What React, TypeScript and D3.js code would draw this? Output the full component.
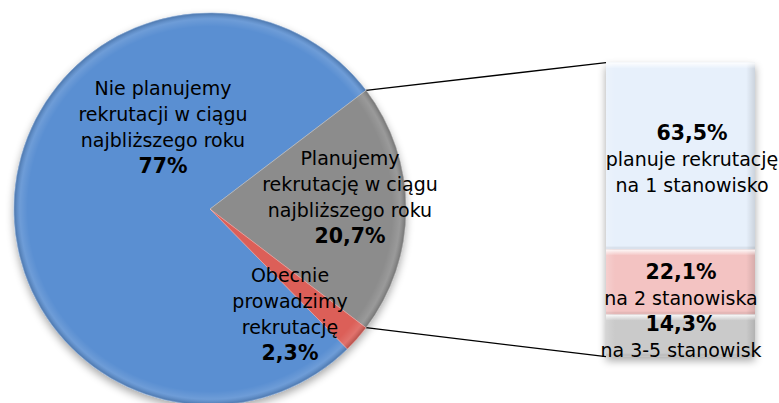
import React from "react";
import * as d3 from "d3";

// ---- data ----
const pieCategories = [
  ["Nie planujemy", "rekrutacji w ciągu", "najbliższego roku"],
  ["Planujemy", "rekrutację w ciągu", "najbliższego roku"],
  ["Obecnie", "prowadzimy", "rekrutację"],
];
const pieValues = [77, 20.7, 2.3];
const pieValueLabels = ["77%", "20,7%", "2,3%"];

const barCategories = [
  ["planuje rekrutację", "na 1 stanowisko"],
  ["na 2 stanowiska"],
  ["na 3-5 stanowisk"],
];
const barValues = [63.5, 22.1, 14.3];
const barValueLabels = ["63,5%", "22,1%", "14,3%"];

// ---- styles / layout ----
const W = 779;
const H = 403;
const pieColors = ["#5a8fd2", "#8c8c8c", "#dc5f58"];
const barColors = ["#e7f0fb", "#f3c3c2", "#cacaca"];
const FONT = "'DejaVu Sans', Verdana, sans-serif";
const FS = 19;
const FSB = 20.5;
const LH = 26;

export default function App() {
  const cx = 210;
  const cy = 209;
  const r = 196;
  const deg = Math.PI / 180;
  const total = d3.sum(pieValues);
  const grayStart = 90 * deg - (pieValues[1] / total) * Math.PI;
  const start = grayStart + ((pieValues[1] + pieValues[2]) / total) * 2 * Math.PI;

  const pie = d3
    .pie<number>()
    .sort(null)
    .value((d) => d)
    .startAngle(start)
    .endAngle(start + 2 * Math.PI);
  const arcs = pie(pieValues);
  const arc = d3.arc<d3.PieArcDatum<number>>().innerRadius(0).outerRadius(r);
  const rim = d3.arc<d3.PieArcDatum<number>>().innerRadius(r - 14).outerRadius(r);

  const barX = 606;
  const barW = 149;
  const barTotal = d3.sum(barValues);
  const y = d3.scaleLinear().domain([0, barTotal]).range([62.7, 356.7]);
  const stacks: { y0: number; y1: number }[] = [];
  let acc = 0;
  barValues.forEach((v) => {
    stacks.push({ y0: acc, y1: acc + v });
    acc += v;
  });

  const pt = (a: number) => [cx + r * Math.sin(a), cy - r * Math.cos(a)];
  const g = arcs[1];
  const p0 = pt(g.startAngle);
  const p1 = pt(g.endAngle);

  const pieLabelPos = [
    { x: 163, y: 95 },
    { x: 350, y: 165 },
    { x: 290, y: 282 },
  ];
  const barLabelPos = [
    { x: 692, y: 140 },
    { x: 681, y: 279 },
    { x: 681, y: 331 },
  ];

  return (
    <svg
      width={W}
      height={H}
      style={{ position: "absolute", left: 0, top: 0, background: "#fff" }}
      fontFamily={FONT}
    >
      <defs>
        <filter id="shadow" x="-20%" y="-20%" width="140%" height="140%">
          <feGaussianBlur in="SourceAlpha" stdDeviation="4" />
          <feOffset dx="0" dy="4" result="b" />
          <feComponentTransfer>
            <feFuncA type="linear" slope="0.35" />
          </feComponentTransfer>
          <feMerge>
            <feMergeNode />
            <feMergeNode in="SourceGraphic" />
          </feMerge>
        </filter>
        <radialGradient id="rimGrad" gradientUnits="userSpaceOnUse" cx="0" cy="0" r={r}>
          <stop offset="0.93" stopColor="#fff" stopOpacity="0" />
          <stop offset="0.97" stopColor="#fff" stopOpacity="0.12" />
          <stop offset="1" stopColor="#000" stopOpacity="0.18" />
        </radialGradient>
        <linearGradient id="barSide" x1="0" y1="0" x2="1" y2="0">
          <stop offset="0" stopColor="#fff" stopOpacity="0.2" />
          <stop offset="0.06" stopColor="#fff" stopOpacity="0" />
          <stop offset="0.94" stopColor="#000" stopOpacity="0" />
          <stop offset="1" stopColor="#000" stopOpacity="0.12" />
        </linearGradient>
        <linearGradient id="barTop" x1="0" y1="0" x2="0" y2="1">
          <stop offset="0" stopColor="#fff" stopOpacity="0.9" />
          <stop offset="1" stopColor="#fff" stopOpacity="0" />
        </linearGradient>
      </defs>

      {/* connector lines */}
      <line x1={p0[0]} y1={p0[1]} x2={barX} y2={y(0)} stroke="#000" strokeWidth={1.3} />
      <line x1={p1[0]} y1={p1[1]} x2={barX} y2={y(barTotal)} stroke="#000" strokeWidth={1.3} />

      {/* pie */}
      <g transform={`translate(${cx},${cy})`}>
        <g filter="url(#shadow)">
          {arcs.map((a, i) => (
            <path key={i} d={arc(a) || ""} fill={pieColors[i]} stroke={pieColors[i]} strokeWidth={0.5} />
          ))}
        </g>
        {arcs.map((a, i) => (
          <path key={"r" + i} d={rim(a) || ""} fill="url(#rimGrad)" />
        ))}
        {arcs.map((a, i) => (
          <path key={"e" + i} d={arc(a) || ""} fill="none" stroke="#ffffff" strokeOpacity={0.2} strokeWidth={1} />
        ))}
      </g>

      {/* bar */}
      <g filter="url(#shadow)">
        {stacks.map((s, i) => (
          <rect
            key={i}
            x={barX}
            y={y(s.y0)}
            width={barW}
            height={y(s.y1) - y(s.y0)}
            fill={barColors[i]}
          />
        ))}
      </g>
      {stacks.map((s, i) => (
        <g key={"b" + i}>
          <rect x={barX} y={y(s.y0)} width={barW} height={y(s.y1) - y(s.y0)} fill="url(#barSide)" />
          <rect x={barX} y={y(s.y0)} width={barW} height={6} fill="url(#barTop)" />
          <rect x={barX} y={y(s.y1) - 3} width={barW} height={3} fill="#000" fillOpacity={0.06} />
        </g>
      ))}

      {/* pie labels */}
      {pieCategories.map((lines, i) => (
        <text key={"pl" + i} textAnchor="middle" fontSize={FS} fill="#000">
          {lines.map((l, j) => (
            <tspan key={j} x={pieLabelPos[i].x} y={pieLabelPos[i].y + j * LH}>
              {l}
            </tspan>
          ))}
          <tspan
            x={pieLabelPos[i].x}
            y={pieLabelPos[i].y + lines.length * LH}
            fontWeight="bold"
            fontSize={FSB}
          >
            {pieValueLabels[i]}
          </tspan>
        </text>
      ))}

      {/* bar labels */}
      {barCategories.map((lines, i) => (
        <text key={"bl" + i} textAnchor="middle" fontSize={FS} fill="#000">
          <tspan x={barLabelPos[i].x} y={barLabelPos[i].y} fontWeight="bold" fontSize={FSB}>
            {barValueLabels[i]}
          </tspan>
          {lines.map((l, j) => (
            <tspan key={j} x={barLabelPos[i].x} y={barLabelPos[i].y + (j + 1) * LH}>
              {l}
            </tspan>
          ))}
        </text>
      ))}
    </svg>
  );
}
